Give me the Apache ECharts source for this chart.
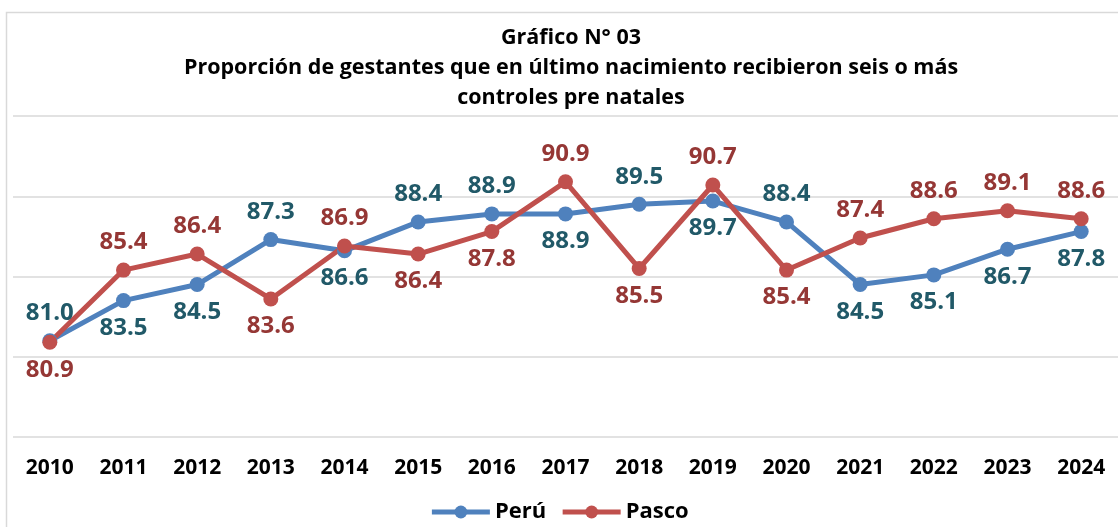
<!DOCTYPE html>
<html>
<head>
<meta charset="utf-8">
<script src="https://cdn.jsdelivr.net/npm/echarts@6/dist/echarts.min.js"></script>
<style>
  html, body { margin: 0; padding: 0; background: #fff; }
  #chart { width: 1118px; height: 527px; }
</style>
</head>
<body>
<div id="chart"></div>
<script>
var years = ['2010', '2011', '2012', '2013', '2014', '2015', '2016', '2017', '2018', '2019', '2020', '2021', '2022', '2023', '2024'];
var peru = [81.0, 83.5, 84.5, 87.3, 86.6, 88.4, 88.9, 88.9, 89.5, 89.7, 88.4, 84.5, 85.1, 86.7, 87.8];
var pasco = [80.9, 85.4, 86.4, 83.6, 86.9, 86.4, 87.8, 90.9, 85.5, 90.7, 85.4, 87.4, 88.6, 89.1, 88.6];

var FONT = '"Open Sans", sans-serif';

// label goes above the point for the higher series, below for the lower one
function withLabels(vals, other) {
	return vals.map(function (v, i) {
		return {
			value: v,
			label: { position: v >= other[i] ? 'top' : 'bottom' }
		};
	});
}

function makeSeries(name, vals, other, color, labelColor) {
	return {
		name: name,
		type: 'line',
		data: withLabels(vals, other),
		symbol: 'circle',
		symbolSize: 15,
		lineStyle: { width: 5, color: color },
		itemStyle: { color: color },
		label: {
			show: true,
			distance: 8,
			color: labelColor,
			fontFamily: FONT,
			fontWeight: 'bold',
			fontSize: 24,
			formatter: function (p) { return p.value.toFixed(1); }
		}
	};
}

var chart = echarts.init(document.getElementById('chart'));
chart.setOption({
	animation: false,
	graphic: [{
		type: 'rect',
		shape: { x: 6.5, y: 12.5, width: 1200, height: 600 },
		style: { fill: 'none', stroke: '#d9d9d9', lineWidth: 1.5 },
		silent: true
	}],
	title: {
		text: 'Gráfico N° 03\nProporción de gestantes que en último nacimiento recibieron seis o más\ncontroles pre natales',
		left: 566,
		textAlign: 'center',
		top: 18,
		textStyle: {
			fontFamily: FONT,
			fontWeight: 'bold',
			fontSize: 21.5,
			lineHeight: 30,
			color: '#000'
		}
	},
	legend: {
		bottom: -1,
		left: 'center',
		itemWidth: 58,
		itemHeight: 16,
		itemGap: 14,
		lineStyle: { width: 5 },
		textStyle: { fontFamily: FONT, fontWeight: 'bold', fontSize: 22, color: '#000' },
		data: ['Perú', 'Pasco']
	},
	grid: { left: 13, right: 0, top: 116, bottom: 90 },
	xAxis: {
		type: 'category',
		data: years,
		axisLine: { show: false },
		axisTick: { show: false },
		axisLabel: {
			margin: 21,
			color: '#000',
			fontFamily: FONT,
			fontWeight: 'bold',
			fontSize: 21
		}
	},
	yAxis: {
		type: 'value',
		min: 75,
		max: 95,
		interval: 5,
		axisLabel: { show: false },
		axisLine: { show: false },
		axisTick: { show: false },
		splitLine: { lineStyle: { color: '#d9d9d9', width: 1.5 } }
	},
	series: [
		makeSeries('Perú', peru, pasco, '#4f81bd', '#215968'),
		makeSeries('Pasco', pasco, peru, '#c0504d', '#953735')
	]
});
</script>
</body>
</html>
